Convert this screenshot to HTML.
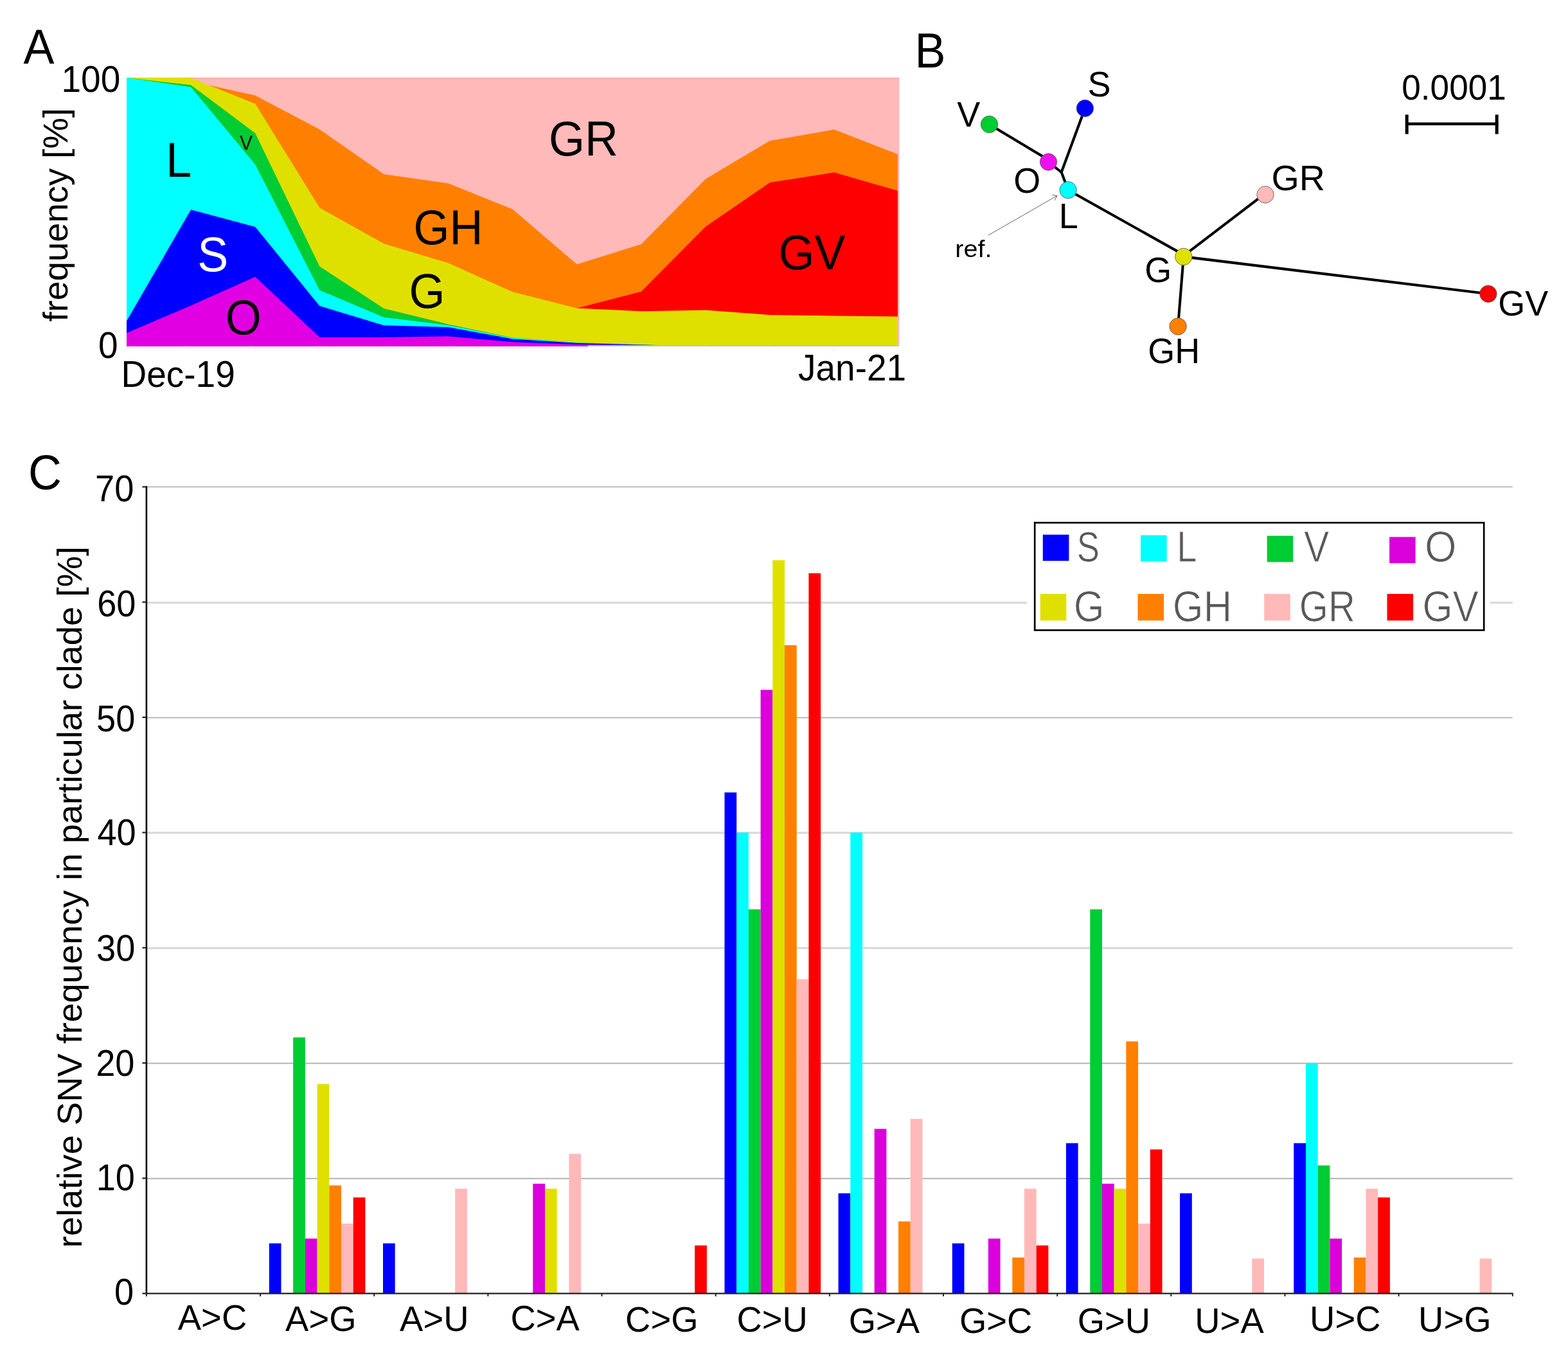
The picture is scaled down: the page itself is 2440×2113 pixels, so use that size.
<!DOCTYPE html>
<html lang="en">
<head>
<meta charset="utf-8">
<title>Figure</title>
<style>
html,body{margin:0;padding:0;background:#fff;}
body{width:2440px;height:2113px;overflow:hidden;}
svg{display:block;font-family:"Liberation Sans", sans-serif;}
</style>
</head>
<body>
<svg width="2440" height="2113" viewBox="0 0 2440 2113">
<rect width="2440" height="2113" fill="#fff"/>
<g id="panelA">
<rect x="197" y="121.0" width="1202.5" height="418.0" fill="#FFB9B9"/>
<rect x="197" y="120.7" width="1202.5" height="1.6" fill="#FFA6A6"/>
<polygon fill="#FF8000" points="197.0,121.0 297.1,121.6 322.5,131.9 397.2,148.6 497.3,201.2 597.4,271.0 697.5,285.3 797.6,325.4 897.7,411.3 997.8,380.0 1097.9,278.4 1198.0,219.0 1298.1,201.6 1397.0,240.1 1397.0,539.0 197.0,539.0"/>
<polygon fill="#FF0000" points="197.0,122.0 297.1,122.6 397.2,162.8 497.3,324.7 597.4,380.6 697.5,410.7 797.6,455.6 897.7,479.6 997.8,453.7 1097.9,352.8 1198.0,284.1 1298.1,268.3 1397.0,296.8 1397.0,539.0 197.0,539.0"/>
<polygon fill="#E0E000" points="197.0,121.0 297.1,121.2 397.2,161.4 497.3,323.3 597.4,379.2 697.5,409.3 797.6,454.2 897.7,479.4 997.8,484.3 1097.9,482.4 1198.0,490.1 1298.1,491.4 1397.0,492.4 1397.0,539.0 197.0,539.0"/>
<polygon fill="#00CC33" points="197.0,121.0 297.1,132.3 397.2,207.3 497.3,414.4 597.4,480.0 697.5,504.6 797.6,525.4 897.7,533.1 997.8,536.3 1097.9,539.0 1198.0,539.0 1298.1,539.0 1397.0,539.0 1397.0,539.0 197.0,539.0"/>
<polygon fill="#00FFFF" points="197.0,121.0 297.1,135.5 397.2,256.0 497.3,451.6 597.4,493.7 697.5,506.0 797.6,526.0 897.7,533.3 997.8,536.4 1097.9,539.0 1198.0,539.0 1298.1,539.0 1397.0,539.0 1397.0,539.0 197.0,539.0"/>
<polygon fill="#0000FF" points="197.0,499.6 297.1,326.2 397.2,353.0 497.3,476.0 597.4,506.2 697.5,509.0 797.6,527.4 897.7,533.8 997.8,536.6 1097.9,539.0 1198.0,539.0 1298.1,539.0 1397.0,539.0 1397.0,539.0 197.0,539.0"/>
<polygon fill="#E100E1" points="197.0,518.2 297.1,475.5 397.2,430.8 497.3,524.8 597.4,524.8 697.5,523.3 797.6,532.2 897.7,536.0 997.8,537.0 1097.9,539.0 1198.0,539.0 1298.1,539.0 1397.0,539.0 1397.0,539.0 197.0,539.0"/>
<rect x="915" y="537.0" width="482" height="2" fill="#c2c0b6"/>
<rect x="196.3" y="540" width="1.6" height="6" fill="#f4f4f4"/>
<rect x="296.4" y="540" width="1.6" height="6" fill="#f4f4f4"/>
<rect x="396.5" y="540" width="1.6" height="6" fill="#f4f4f4"/>
<rect x="496.6" y="540" width="1.6" height="6" fill="#f4f4f4"/>
<rect x="596.7" y="540" width="1.6" height="6" fill="#f4f4f4"/>
<rect x="696.8" y="540" width="1.6" height="6" fill="#f4f4f4"/>
<rect x="796.9" y="540" width="1.6" height="6" fill="#f4f4f4"/>
<rect x="897.0" y="540" width="1.6" height="6" fill="#f4f4f4"/>
<rect x="997.1" y="540" width="1.6" height="6" fill="#f4f4f4"/>
<rect x="1097.2" y="540" width="1.6" height="6" fill="#f4f4f4"/>
<rect x="1197.3" y="540" width="1.6" height="6" fill="#f4f4f4"/>
<rect x="1297.4" y="540" width="1.6" height="6" fill="#f4f4f4"/>
<rect x="1396.3" y="540" width="1.6" height="6" fill="#f4f4f4"/>
<text transform="translate(36.6,98.6) scale(1.0,1.045)" font-size="72" fill="#000" text-anchor="start">A</text>
<text transform="translate(95.5,143.0) scale(1.0,1.045)" font-size="55" fill="#000" text-anchor="start">100</text>
<text transform="translate(153.0,556.6) scale(1.0,1.045)" font-size="55" fill="#000" text-anchor="start">0</text>
<text transform="translate(105.4,500.6) rotate(-90)" font-size="54.4">frequency [%]</text>
<text transform="translate(188.5,602.0) scale(1.0,1.045)" font-size="55" fill="#000" text-anchor="start">Dec-19</text>
<text transform="translate(1242.0,592.0) scale(1.0,1.045)" font-size="55" fill="#000" text-anchor="start">Jan-21</text>
<text transform="translate(258.2,274.6) scale(1.0,1.045)" font-size="72" fill="#000" text-anchor="start">L</text>
<text transform="translate(373.0,233.2) scale(0.97,1.0)" font-size="31" fill="#000" text-anchor="start">V</text>
<text transform="translate(307.3,421.6) scale(1.0,1.045)" font-size="72" fill="#fff" text-anchor="start">S</text>
<text transform="translate(350.8,520.2) scale(1.0,1.045)" font-size="72" fill="#000" text-anchor="start">O</text>
<text transform="translate(854.0,241.6) scale(1.0,1.045)" font-size="72" fill="#000" text-anchor="start">GR</text>
<text transform="translate(643.6,380.2) scale(1.0,1.045)" font-size="72" fill="#000" text-anchor="start">GH</text>
<text transform="translate(636.4,479.0) scale(1.0,1.045)" font-size="72" fill="#000" text-anchor="start">G</text>
<text transform="translate(1211.4,418.6) scale(1.0,1.045)" font-size="72" fill="#000" text-anchor="start">GV</text>
</g>
<g id="panelB">
<line x1="1539.5" y1="193.5" x2="1631.5" y2="248.8" stroke="#000" stroke-width="4.1" stroke-linecap="round"/>
<line x1="1631.5" y1="252.0" x2="1651.7" y2="268.0" stroke="#000" stroke-width="4.1" stroke-linecap="round"/>
<line x1="1688.4" y1="168.5" x2="1651.7" y2="268.0" stroke="#000" stroke-width="4.1" stroke-linecap="round"/>
<line x1="1651.7" y1="268.0" x2="1662.2" y2="295.7" stroke="#000" stroke-width="4.1" stroke-linecap="round"/>
<line x1="1662.2" y1="295.7" x2="1841.8" y2="396.4" stroke="#000" stroke-width="4.1" stroke-linecap="round"/>
<line x1="1842.3" y1="397.59999999999997" x2="1968.0" y2="301.7" stroke="#000" stroke-width="4.1" stroke-linecap="round"/>
<line x1="1841.8" y1="399.4" x2="1833.1" y2="507.9" stroke="#000" stroke-width="4.1" stroke-linecap="round"/>
<line x1="1841.8" y1="399.4" x2="2315.9" y2="457.2" stroke="#000" stroke-width="4.1" stroke-linecap="round"/>
<circle cx="1539.5" cy="193.5" r="13.2" fill="#00CC33" stroke="#555" stroke-width="0.8"/>
<circle cx="1688.4" cy="168.5" r="13.2" fill="#0000FF" stroke="#555" stroke-width="0.8"/>
<circle cx="1631.5" cy="252.0" r="13.2" fill="#EE10EE" stroke="#555" stroke-width="0.8"/>
<circle cx="1662.2" cy="295.7" r="13.2" fill="#00FFFF" stroke="#555" stroke-width="0.8"/>
<circle cx="1841.8" cy="399.4" r="13.2" fill="#E0E000" stroke="#555" stroke-width="0.8"/>
<circle cx="1969.0" cy="302.9" r="13.2" fill="#FFB9B9" stroke="#555" stroke-width="0.8"/>
<circle cx="1833.1" cy="507.9" r="13.2" fill="#FF8000" stroke="#555" stroke-width="0.8"/>
<circle cx="2315.9" cy="457.2" r="13.2" fill="#FF0000" stroke="#555" stroke-width="0.8"/>
<g stroke="#666" stroke-width="1.0" fill="none"><line x1="1538" y1="366" x2="1645" y2="304.5"/><polyline points="1637.5,303.2 1645,304.5 1641.2,311.6"/></g>
<g stroke="#000"><line x1="2187" y1="192.7" x2="2331.5" y2="192.7" stroke-width="4.4"/><line x1="2189.2" y1="178.4" x2="2189.2" y2="208.6" stroke-width="5"/><line x1="2329.2" y1="178.4" x2="2329.2" y2="208.6" stroke-width="5"/></g>
<text transform="translate(1423.5,105.0) scale(1.0,1.045)" font-size="72" fill="#000" text-anchor="start">B</text>
<text transform="translate(1692.4,149.6) scale(1.0,1.045)" font-size="54" fill="#000" text-anchor="start">S</text>
<text transform="translate(1489.2,196.6) scale(1.0,1.045)" font-size="54" fill="#000" text-anchor="start">V</text>
<text transform="translate(1577.2,299.6) scale(1.0,1.045)" font-size="54" fill="#000" text-anchor="start">O</text>
<text transform="translate(1647.7,355.0) scale(1.0,1.045)" font-size="54" fill="#000" text-anchor="start">L</text>
<text transform="translate(1781.2,439.4) scale(1.0,1.045)" font-size="54" fill="#000" text-anchor="start">G</text>
<text transform="translate(1786.2,565.4) scale(1.0,1.045)" font-size="54" fill="#000" text-anchor="start">GH</text>
<text transform="translate(1978.4,296.0) scale(1.03,1.045)" font-size="54" fill="#000" text-anchor="start">GR</text>
<text transform="translate(2331.2,491.0) scale(1.0,1.045)" font-size="54" fill="#000" text-anchor="start">GV</text>
<text transform="translate(1486.3,400.3) scale(1.07,1.0)" font-size="37" fill="#000" text-anchor="start">ref.</text>
<text transform="translate(2181.2,155.4) scale(0.985,1.045)" font-size="54" fill="#000" text-anchor="start">0.0001</text>
</g>
<g id="panelC">
<line x1="227.9" y1="757.5" x2="2353.8" y2="757.5" stroke="#bdbdbd" stroke-width="2.2"/>
<line x1="227.9" y1="937.8" x2="2353.8" y2="937.8" stroke="#d9d9d9" stroke-width="3.2"/>
<line x1="227.9" y1="1116.6" x2="2353.8" y2="1116.6" stroke="#b3b3b3" stroke-width="1.8"/>
<line x1="227.9" y1="1295.8" x2="2353.8" y2="1295.8" stroke="#d9d9d9" stroke-width="3.2"/>
<line x1="227.9" y1="1475.1" x2="2353.8" y2="1475.1" stroke="#d9d9d9" stroke-width="3.2"/>
<line x1="227.9" y1="1654.4" x2="2353.8" y2="1654.4" stroke="#b3b3b3" stroke-width="2.0"/>
<line x1="227.9" y1="1833.7" x2="2353.8" y2="1833.7" stroke="#b3b3b3" stroke-width="2.0"/>
<rect x="418.8" y="1934.6" width="18.7" height="78.0" fill="#0000FF"/>
<rect x="456.2" y="1614.2" width="18.7" height="398.4" fill="#00CC33"/>
<rect x="474.9" y="1927.2" width="18.7" height="85.4" fill="#D900D9"/>
<rect x="493.6" y="1686.6" width="18.7" height="326.0" fill="#E0E000"/>
<rect x="512.3" y="1844.5" width="18.7" height="168.1" fill="#FF8000"/>
<rect x="531.0" y="1903.9" width="18.7" height="108.7" fill="#FFB9B9"/>
<rect x="549.7" y="1863.2" width="18.7" height="149.4" fill="#FF0000"/>
<rect x="596.0" y="1934.6" width="18.7" height="78.0" fill="#0000FF"/>
<rect x="708.2" y="1849.6" width="18.7" height="163.0" fill="#FFB9B9"/>
<rect x="829.3" y="1841.8" width="18.7" height="170.8" fill="#D900D9"/>
<rect x="848.0" y="1849.6" width="18.7" height="163.0" fill="#E0E000"/>
<rect x="885.4" y="1795.3" width="18.7" height="217.3" fill="#FFB9B9"/>
<rect x="1081.2" y="1937.9" width="18.7" height="74.7" fill="#FF0000"/>
<rect x="1127.5" y="1233.0" width="18.7" height="779.6" fill="#0000FF"/>
<rect x="1146.2" y="1295.4" width="18.7" height="717.2" fill="#00FFFF"/>
<rect x="1164.9" y="1414.9" width="18.7" height="597.7" fill="#00CC33"/>
<rect x="1183.6" y="1073.4" width="18.7" height="939.2" fill="#D900D9"/>
<rect x="1202.3" y="871.6" width="18.7" height="1141.0" fill="#E0E000"/>
<rect x="1221.0" y="1004.0" width="18.7" height="1008.6" fill="#FF8000"/>
<rect x="1239.7" y="1523.6" width="18.7" height="489.0" fill="#FFB9B9"/>
<rect x="1258.4" y="892.0" width="18.7" height="1120.6" fill="#FF0000"/>
<rect x="1304.6" y="1856.7" width="18.7" height="155.9" fill="#0000FF"/>
<rect x="1323.3" y="1295.4" width="18.7" height="717.2" fill="#00FFFF"/>
<rect x="1360.7" y="1756.5" width="18.7" height="256.1" fill="#D900D9"/>
<rect x="1398.1" y="1900.5" width="18.7" height="112.1" fill="#FF8000"/>
<rect x="1416.8" y="1740.9" width="18.7" height="271.7" fill="#FFB9B9"/>
<rect x="1481.8" y="1934.6" width="18.7" height="78.0" fill="#0000FF"/>
<rect x="1537.9" y="1927.2" width="18.7" height="85.4" fill="#D900D9"/>
<rect x="1575.3" y="1956.6" width="18.7" height="56.0" fill="#FF8000"/>
<rect x="1594.0" y="1849.6" width="18.7" height="163.0" fill="#FFB9B9"/>
<rect x="1612.7" y="1937.9" width="18.7" height="74.7" fill="#FF0000"/>
<rect x="1658.9" y="1778.7" width="18.7" height="233.9" fill="#0000FF"/>
<rect x="1696.3" y="1414.9" width="18.7" height="597.7" fill="#00CC33"/>
<rect x="1715.0" y="1841.8" width="18.7" height="170.8" fill="#D900D9"/>
<rect x="1733.7" y="1849.6" width="18.7" height="163.0" fill="#E0E000"/>
<rect x="1752.4" y="1620.4" width="18.7" height="392.2" fill="#FF8000"/>
<rect x="1771.1" y="1903.9" width="18.7" height="108.7" fill="#FFB9B9"/>
<rect x="1789.8" y="1788.5" width="18.7" height="224.1" fill="#FF0000"/>
<rect x="1836.1" y="1856.7" width="18.7" height="155.9" fill="#0000FF"/>
<rect x="1948.3" y="1958.3" width="18.7" height="54.3" fill="#FFB9B9"/>
<rect x="2013.3" y="1778.7" width="18.7" height="233.9" fill="#0000FF"/>
<rect x="2032.0" y="1654.0" width="18.7" height="358.6" fill="#00FFFF"/>
<rect x="2050.7" y="1813.4" width="18.7" height="199.2" fill="#00CC33"/>
<rect x="2069.4" y="1927.2" width="18.7" height="85.4" fill="#D900D9"/>
<rect x="2106.8" y="1956.6" width="18.7" height="56.0" fill="#FF8000"/>
<rect x="2125.5" y="1849.6" width="18.7" height="163.0" fill="#FFB9B9"/>
<rect x="2144.2" y="1863.2" width="18.7" height="149.4" fill="#FF0000"/>
<rect x="2302.6" y="1958.3" width="18.7" height="54.3" fill="#FFB9B9"/>
<line x1="227.9" y1="756.4" x2="227.9" y2="2013.8" stroke="#000" stroke-width="2.6"/>
<line x1="226.6" y1="2012.6" x2="2354.6000000000004" y2="2012.6" stroke="#222" stroke-width="2.4"/>
<line x1="221.4" y1="2012.6" x2="227.9" y2="2012.6" stroke="#222" stroke-width="2.2"/>
<line x1="221.4" y1="1833.3" x2="227.9" y2="1833.3" stroke="#222" stroke-width="2.2"/>
<line x1="221.4" y1="1654.0" x2="227.9" y2="1654.0" stroke="#222" stroke-width="2.2"/>
<line x1="221.4" y1="1474.7" x2="227.9" y2="1474.7" stroke="#222" stroke-width="2.2"/>
<line x1="221.4" y1="1295.4" x2="227.9" y2="1295.4" stroke="#222" stroke-width="2.2"/>
<line x1="221.4" y1="1116.1" x2="227.9" y2="1116.1" stroke="#222" stroke-width="2.2"/>
<line x1="221.4" y1="936.8" x2="227.9" y2="936.8" stroke="#222" stroke-width="2.2"/>
<line x1="221.4" y1="757.5" x2="227.9" y2="757.5" stroke="#222" stroke-width="2.2"/>
<line x1="227.9" y1="2012.6" x2="227.9" y2="2017.1" stroke="#222" stroke-width="2"/>
<line x1="405.1" y1="2012.6" x2="405.1" y2="2017.1" stroke="#222" stroke-width="2"/>
<line x1="582.2" y1="2012.6" x2="582.2" y2="2017.1" stroke="#222" stroke-width="2"/>
<line x1="759.4" y1="2012.6" x2="759.4" y2="2017.1" stroke="#222" stroke-width="2"/>
<line x1="936.5" y1="2012.6" x2="936.5" y2="2017.1" stroke="#222" stroke-width="2"/>
<line x1="1113.7" y1="2012.6" x2="1113.7" y2="2017.1" stroke="#222" stroke-width="2"/>
<line x1="1290.9" y1="2012.6" x2="1290.9" y2="2017.1" stroke="#222" stroke-width="2"/>
<line x1="1468.0" y1="2012.6" x2="1468.0" y2="2017.1" stroke="#222" stroke-width="2"/>
<line x1="1645.2" y1="2012.6" x2="1645.2" y2="2017.1" stroke="#222" stroke-width="2"/>
<line x1="1822.3" y1="2012.6" x2="1822.3" y2="2017.1" stroke="#222" stroke-width="2"/>
<line x1="1999.5" y1="2012.6" x2="1999.5" y2="2017.1" stroke="#222" stroke-width="2"/>
<line x1="2176.6" y1="2012.6" x2="2176.6" y2="2017.1" stroke="#222" stroke-width="2"/>
<line x1="2353.8" y1="2012.6" x2="2353.8" y2="2017.1" stroke="#222" stroke-width="2"/>
<text transform="translate(208.3,779.8) scale(0.985,1.045)" font-size="55" fill="#000" text-anchor="end">70</text>
<text transform="translate(211.5,959.0) scale(0.985,1.045)" font-size="55" fill="#000" text-anchor="end">60</text>
<text transform="translate(210.3,1137.8) scale(0.985,1.045)" font-size="55" fill="#000" text-anchor="end">50</text>
<text transform="translate(211.7,1315.2) scale(0.985,1.045)" font-size="55" fill="#000" text-anchor="end">40</text>
<text transform="translate(210.3,1495.4) scale(0.985,1.045)" font-size="55" fill="#000" text-anchor="end">30</text>
<text transform="translate(209.4,1673.8) scale(0.985,1.045)" font-size="55" fill="#000" text-anchor="end">20</text>
<text transform="translate(209.9,1852.2) scale(0.985,1.045)" font-size="55" fill="#000" text-anchor="end">10</text>
<text transform="translate(208.1,2030.2) scale(0.985,1.045)" font-size="55" fill="#000" text-anchor="end">0</text>
<text transform="translate(126.6,1941.4) rotate(-90)" font-size="54.4">relative SNV frequency in particular clade [%]</text>
<text transform="translate(44.0,761.0) scale(1.0,1.045)" font-size="72" fill="#000" text-anchor="start">C</text>
<text transform="translate(276.8,2068.6) scale(1.008,1.045)" font-size="54" fill="#000" text-anchor="start">A&gt;C</text>
<text transform="translate(444.1,2071.2) scale(1.008,1.045)" font-size="54" fill="#000" text-anchor="start">A&gt;G</text>
<text transform="translate(622.1,2071.2) scale(1.008,1.045)" font-size="54" fill="#000" text-anchor="start">A&gt;U</text>
<text transform="translate(794.4,2069.6) scale(1.008,1.045)" font-size="54" fill="#000" text-anchor="start">C&gt;A</text>
<text transform="translate(973.1,2071.6) scale(1.008,1.045)" font-size="54" fill="#000" text-anchor="start">C&gt;G</text>
<text transform="translate(1146.5,2071.6) scale(1.008,1.045)" font-size="54" fill="#000" text-anchor="start">C&gt;U</text>
<text transform="translate(1320.7,2074.0) scale(1.008,1.045)" font-size="54" fill="#000" text-anchor="start">G&gt;A</text>
<text transform="translate(1492.9,2074.2) scale(1.008,1.045)" font-size="54" fill="#000" text-anchor="start">G&gt;C</text>
<text transform="translate(1676.7,2074.2) scale(1.008,1.045)" font-size="54" fill="#000" text-anchor="start">G&gt;U</text>
<text transform="translate(1859.3,2074.0) scale(1.008,1.045)" font-size="54" fill="#000" text-anchor="start">U&gt;A</text>
<text transform="translate(2038.1,2070.6) scale(1.008,1.045)" font-size="54" fill="#000" text-anchor="start">U&gt;C</text>
<text transform="translate(2207.1,2071.6) scale(1.008,1.045)" font-size="54" fill="#000" text-anchor="start">U&gt;G</text>
<rect x="1598" y="806" width="721" height="182" fill="#fff"/>
<rect x="1610.2" y="813.3" width="699.0" height="167.3" fill="#fff" stroke="#000" stroke-width="2.7"/>
<rect x="1622.8" y="831.9000000000001" width="40.6" height="40.8" fill="#0000FF"/>
<text transform="translate(1675.7,874.4) scale(0.82,1.05)" font-size="64.4" fill="#585858" stroke="#fff" stroke-width="0.9">S</text>
<rect x="1775.0" y="832.8000000000001" width="40.6" height="40.8" fill="#00FFFF"/>
<text transform="translate(1831.2,874.4) scale(0.875,1.05)" font-size="64.4" fill="#585858" stroke="#fff" stroke-width="0.9">L</text>
<rect x="1971.7" y="833.7" width="40.6" height="40.8" fill="#00CC33"/>
<text transform="translate(2029.1,874.4) scale(0.916,1.05)" font-size="64.4" fill="#585858" stroke="#fff" stroke-width="0.9">V</text>
<rect x="2162.1" y="835.5" width="40.6" height="40.8" fill="#D900D9"/>
<text transform="translate(2217.0,874.4) scale(0.99,1.05)" font-size="64.4" fill="#585858" stroke="#fff" stroke-width="0.9">O</text>
<rect x="1618.7" y="924.1" width="40.6" height="41.4" fill="#E0E000"/>
<text transform="translate(1670.8,966.6) scale(0.955,1.05)" font-size="64.4" fill="#585858" stroke="#fff" stroke-width="0.9">G</text>
<rect x="1770.5" y="924.1" width="40.6" height="41.4" fill="#FF8000"/>
<text transform="translate(1824.8,966.6) scale(0.955,1.05)" font-size="64.4" fill="#585858" stroke="#fff" stroke-width="0.9">GH</text>
<rect x="1967.2" y="924.1" width="40.6" height="41.4" fill="#FFB9B9"/>
<text transform="translate(2021.7,966.6) scale(0.903,1.05)" font-size="64.4" fill="#585858" stroke="#fff" stroke-width="0.9">GR</text>
<rect x="2158.5" y="924.1" width="40.6" height="41.4" fill="#FF0000"/>
<text transform="translate(2213.4,966.6) scale(0.94,1.05)" font-size="64.4" fill="#585858" stroke="#fff" stroke-width="0.9">GV</text>
</g>
</svg>
</body>
</html>
